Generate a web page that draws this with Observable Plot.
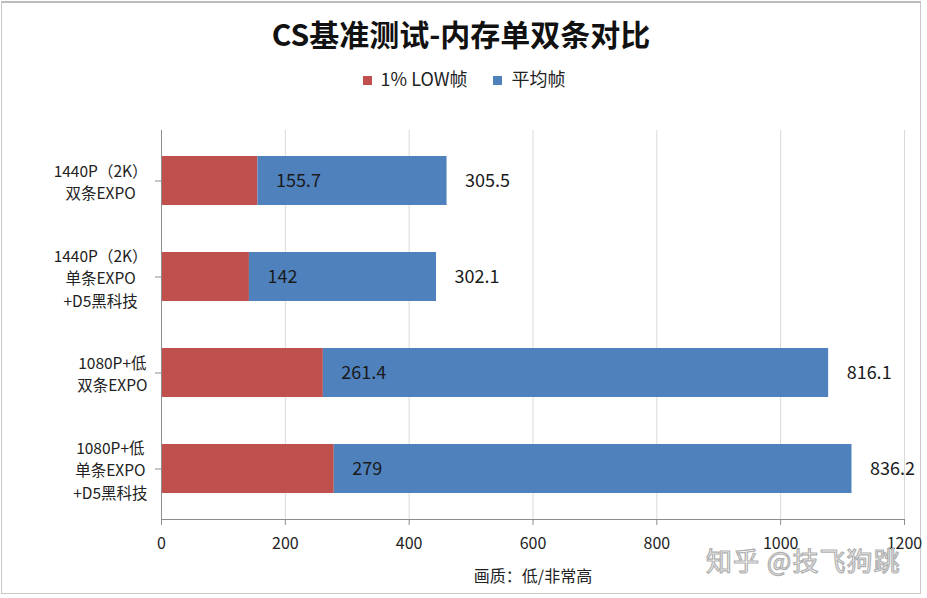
<!DOCTYPE html>
<html>
<head>
<meta charset="utf-8">
<script src="https://cdn.jsdelivr.net/npm/d3@7"></script>
<script src="https://cdn.jsdelivr.net/npm/@observablehq/plot@0.6"></script>
<style>
  html, body { margin: 0; padding: 0; background: #fff; }
  #wrap {
    position: relative; width: 918px; height: 590px; margin: 1px 0 0 1px;
    border: 1px solid #c8c8c8; border-top: 2px solid #bdbdbd; background: #fff;
    font-family: "Noto Sans CJK SC", sans-serif;
  }
  #chart svg { overflow: visible; }
  #title { text-align: center; font-size: 30px; font-weight: bold; line-height: 40px; padding-top: 10px; color: #111; }
  #legend { display: flex; justify-content: center; gap: 26px; margin-top: 12px; height: 26px; align-items: center;
    font-size: 18px; color: #222; padding-left: 6px; }
  #legend span.sw { display: inline-block; width: 9px; height: 9px; margin-right: 9px; vertical-align: middle; position: relative; top: -1px; }
  #watermark { position: absolute; left: 704px; top: 538px; font-size: 26px; color: #fff;
    -webkit-text-stroke: 1.2px #b0b0b0; font-family: "Noto Sans CJK SC", sans-serif; letter-spacing: 1px; }
</style>
</head>
<body>
<div id="wrap">
  <div id="title">CS基准测试-内存单双条对比</div>
  <div id="legend"></div>
  <div id="chart"></div>
  <div id="watermark">知乎 @技飞狗跳</div>
</div>
<script>
const categories = [
  "1440P（2K）\n双条EXPO",
  "1440P（2K）\n单条EXPO\n+D5黑科技",
  "1080P+低\n双条EXPO",
  "1080P+低\n单条EXPO\n+D5黑科技"
];
const seriesNames = ["1% LOW帧", "平均帧"];
const lowFps = [155.7, 142, 261.4, 279];
const avgFps = [305.5, 302.1, 816.1, 836.2];
const xTicks = [0, 200, 400, 600, 800, 1000, 1200];
const colors = ["#C0504D", "#4F81BD"];
const xTitle = "画质：低/非常高";

// legend
const legend = document.getElementById("legend");
seriesNames.forEach((s, i) => {
  const item = document.createElement("div");
  item.innerHTML = `<span class="sw" style="background:${colors[i]}"></span>${s}`;
  legend.appendChild(item);
});

const rows = [];
categories.forEach((c, i) => {
  rows.push({cat: c, series: seriesNames[0], value: lowFps[i]});
  rows.push({cat: c, series: seriesNames[1], value: avgFps[i]});
});
const lowLabels = categories.map((c, i) => ({cat: c, x: lowFps[i], label: String(lowFps[i])}));
const avgLabels = categories.map((c, i) => ({cat: c, x: lowFps[i] + avgFps[i], label: String(avgFps[i])}));

const chart = Plot.plot({
  width: 918,
  height: 496,
  marginTop: 39,
  marginBottom: 68,
  marginLeft: 159,
  marginRight: 16,
  style: {fontFamily: "'Noto Sans CJK SC', sans-serif", fontSize: "15px", color: "#222", background: "transparent"},
  x: {domain: [0, 1200], ticks: xTicks, label: null},
  y: {domain: categories, paddingInner: 0.49, paddingOuter: 0.265, label: null},
  color: {domain: seriesNames, range: colors},
  marks: [
    Plot.gridX(xTicks.slice(1), {stroke: "#d9d9d9", strokeOpacity: 1}),
    Plot.barX(rows, {y: "cat", x: "value", fill: "series", order: seriesNames}),
    Plot.text(lowLabels, {y: "cat", x: "x", text: "label", textAnchor: "start", dx: 18, fontSize: 18, fill: "#1a1a1a"}),
    Plot.text(avgLabels, {y: "cat", x: "x", text: "label", textAnchor: "start", dx: 18, fontSize: 18, fill: "#1a1a1a"}),
    Plot.ruleX([0], {stroke: "#8c8c8c"}),
    Plot.frame({anchor: "bottom", stroke: "#8c8c8c"}),
    Plot.axisX(xTicks, {tickSize: 6, tickPadding: 12, stroke: "#8c8c8c", fontSize: 16, fill: "#222",
      tickFormat: d3.format("d"),
      label: xTitle, labelAnchor: "center", labelArrow: "none", labelOffset: 62}),
    Plot.axisY({tickSize: 6, tickPadding: 8, stroke: "#8c8c8c", fontSize: 15.5, fill: "#222", lineHeight: 1.45, label: null})
  ]
});
document.getElementById("chart").appendChild(chart);

// center the lines of each category label within its block, block right-aligned to the axis
chart.querySelectorAll('g[aria-label="y-axis tick label"] text').forEach(t => {
  const w = t.getBBox().width;
  t.setAttribute("text-anchor", "middle");
  t.querySelectorAll("tspan").forEach(ts => ts.setAttribute("x", -w / 2));
  if (!t.querySelector("tspan")) t.setAttribute("x", -w / 2);
});
</script>
</body>
</html>
